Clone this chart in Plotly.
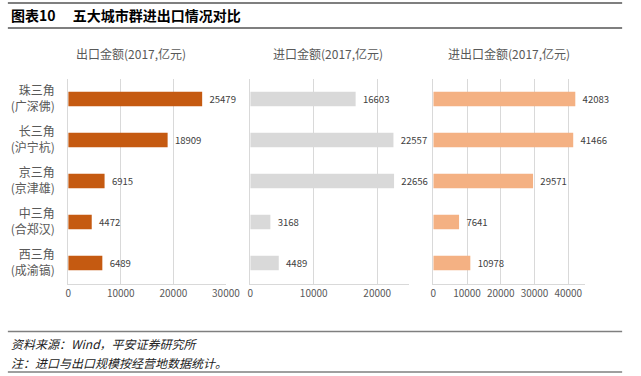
import plotly.graph_objects as go

categories = ["珠三角<br>(广深佛)", "长三角<br>(沪宁杭)", "京三角<br>(京津雄)", "中三角<br>(合郑汉)", "西三角<br>(成渝镐)"]
export_vals = [25479, 18909, 6915, 4472, 6489]
import_vals = [16603, 22557, 22656, 3168, 4489]
total_vals = [42083, 41466, 29571, 7641, 10978]
panel_titles = ["出口金额(2017,亿元)", "进口金额(2017,亿元)", "进出口金额(2017,亿元)"]
colors = ["#C55A11", "#D9D9D9", "#F4B183"]
x_ranges = [[0, 30000], [0, 25000], [0, 45000]]

W, H = 641, 376
FONT = "Noto Sans CJK SC"

def px(x):
    return x / W

def py(y):
    return 1 - y / H

x_domains = [[px(67), px(229)], [px(254), px(417)], [px(442), px(598)]]
y_domain = [py(283.5), py(78.5)]

fig = go.Figure()
series = [export_vals, import_vals, total_vals]
for i, vals in enumerate(series):
    sfx = "" if i == 0 else str(i + 1)
    fig.add_trace(go.Bar(
        x=vals, y=categories, orientation="h",
        marker=dict(color=colors[i], line=dict(width=0)),
        width=0.35,
        text=["\u00a0\u00a0" + str(v) for v in vals], textposition="outside",
        textfont=dict(family=FONT, size=10, color="#404040"),
        cliponaxis=False,
        xaxis="x" + sfx, yaxis="y" + sfx,
        showlegend=False,
    ))

layout = dict(
    width=W, height=H, autosize=False,
    margin=dict(l=0, r=0, t=0, b=0),
    paper_bgcolor="white", plot_bgcolor="white",
    font=dict(family=FONT, color="#595959"),
)
for i in range(3):
    sfx = "" if i == 0 else str(i + 1)
    layout["xaxis" + sfx] = dict(
        domain=x_domains[i], range=x_ranges[i], dtick=10000,
        showgrid=True, gridcolor="#D9D9D9", gridwidth=1,
        zeroline=False, showline=True, linecolor="#D9D9D9", linewidth=1,
        tickfont=dict(family=FONT, size=10, color="#595959"),
        ticks="", ticklen=0, tickformat="d",
        anchor="y" + sfx, fixedrange=True,
    )
    layout["yaxis" + sfx] = dict(
        domain=y_domain, autorange="reversed",
        showgrid=False, zeroline=False,
        showline=True, linecolor="#D9D9D9", linewidth=1,
        showticklabels=(i == 0), ticks="",
        tickfont=dict(family=FONT, size=12, color="#595959"),
        anchor="x" + sfx, ticklabelstandoff=10, fixedrange=True,
    )
fig.update_layout(**layout)

centers = [132, 334, 520]
annotations = []
for t, c in zip(panel_titles, centers):
    annotations.append(dict(text=t, x=px(c), y=py(54), xref="paper", yref="paper",
                            showarrow=False, xanchor="center", yanchor="middle",
                            font=dict(family=FONT, size=12, color="#595959")))
annotations.append(dict(text="<b>图表10　 五大城市群进出口情况对比</b>", x=px(6), y=py(15),
                        xref="paper", yref="paper", showarrow=False,
                        xanchor="left", yanchor="middle",
                        font=dict(family=FONT, size=14, color="#000000")))
annotations.append(dict(text="<i>资料来源：Wind，平安证券研究所</i>", x=px(6), y=py(343),
                        xref="paper", yref="paper", showarrow=False,
                        xanchor="left", yanchor="middle",
                        font=dict(family=FONT, size=12, color="#222222")))
annotations.append(dict(text="<i>注：进口与出口规模按经营地数据统计。</i>", x=px(6), y=py(362),
                        xref="paper", yref="paper", showarrow=False,
                        xanchor="left", yanchor="middle",
                        font=dict(family=FONT, size=12, color="#222222")))
fig.update_layout(annotations=annotations)

shapes = []
for yy, w in [(3, 2), (28, 2), (331.5, 1.5), (372, 1.5)]:
    shapes.append(dict(type="line", xref="paper", yref="paper",
                       x0=px(5), x1=px(636), y0=py(yy), y1=py(yy),
                       line=dict(color="#7F7F7F", width=w)))
fig.update_layout(shapes=shapes)

fig.write_html("out.html", config={"displayModeBar": False, "staticPlot": True},
               post_script="document.body.style.margin='0';document.body.style.overflow='hidden';")
